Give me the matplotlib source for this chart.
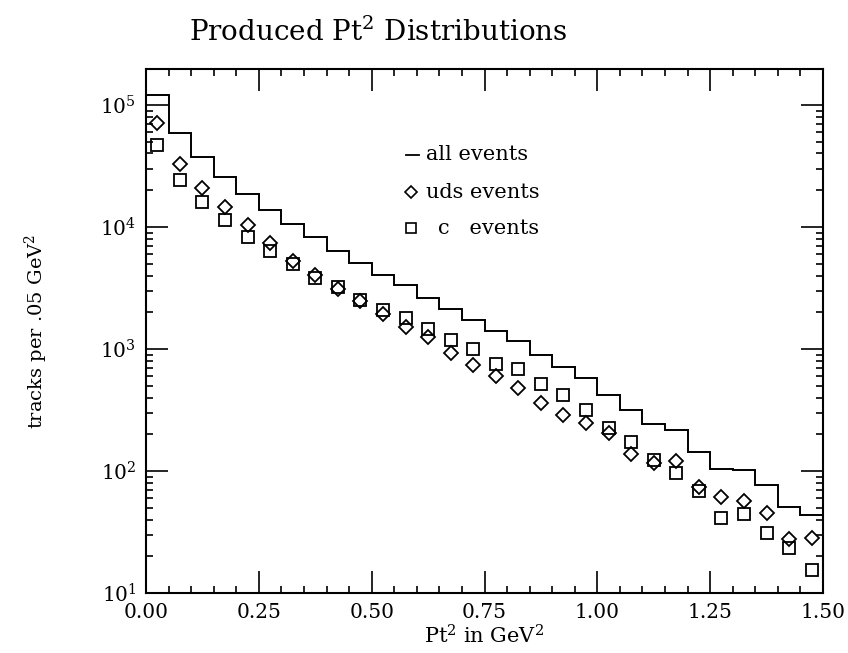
import numpy as np
import matplotlib
matplotlib.use("Agg")
import matplotlib.pyplot as plt
from matplotlib.ticker import FixedLocator, LogLocator, NullFormatter

plt.rcParams['font.family'] = ['DejaVu Serif']
plt.rcParams['mathtext.fontset'] = 'dejavuserif'

bin_width = 0.05
bin_edges = np.round(np.arange(0, 31) * bin_width, 3)
bin_centers = (bin_edges[:-1] + bin_edges[1:]) / 2

all_events = [1.2e5, 5.86e4, 3.72e4, 2.58e4, 1.86e4, 1.38e4, 1.06e4, 8.3e3, 6.35e3, 5.03e3,
              4.05e3, 3.35e3, 2.63e3, 2.11e3, 1.73e3, 1.41e3, 1.17e3, 887, 716, 575,
              420, 316, 243, 217, 144, 103, 101, 76.8, 51, 43.6]
uds_events = [7.08e4, 3.28e4, 2.07e4, 1.47e4, 1.03e4, 7.43e3, 5.3e3, 4.05e3, 3.12e3, 2.45e3,
              1.94e3, 1.52e3, 1.25e3, 933, 740, 604, 476, 363, 288, 249,
              204, 138, 116, 121, 74.3, 61.5, 57.1, 45, 27.9, 28]
c_events = [4.7e4, 2.43e4, 1.61e4, 1.14e4, 8.3e3, 6.4e3, 4.98e3, 3.84e3, 3.2e3, 2.52e3,
            2.09e3, 1.79e3, 1.45e3, 1.19e3, 995, 750, 686, 517, 420, 316,
            224, 174, 122, 96.9, 68.5, 41.4, 44.2, 30.8, 23.2, 15.4]
x_ticks = [0.0, 0.25, 0.5, 0.75, 1.0, 1.25, 1.5]
x_tick_labels = ["0.00", "0.25", "0.50", "0.75", "1.00", "1.25", "1.50"]

fig = plt.figure(figsize=(8.48, 6.53), dpi=100)
ax = fig.add_axes([146/848, 1-593/653, 677/848, 524/653])

ax.stairs(all_events, bin_edges, color='black', linewidth=1.4, baseline=None)
ax.plot(bin_centers, uds_events, linestyle='none', marker='D', markersize=7,
        markerfacecolor='none', markeredgecolor='black', markeredgewidth=1.3)
ax.plot(bin_centers, c_events, linestyle='none', marker='s', markersize=9,
        markerfacecolor='none', markeredgecolor='black', markeredgewidth=1.3)

ax.set_yscale('log')
ax.set_xlim(0, 1.5)
ax.set_ylim(10, 1.97e5)

ax.xaxis.set_major_locator(FixedLocator(x_ticks))
ax.set_xticklabels(x_tick_labels)
ax.xaxis.set_minor_locator(FixedLocator(bin_edges))
ax.yaxis.set_major_locator(LogLocator(base=10, numticks=10))
ax.yaxis.set_minor_locator(LogLocator(base=10, subs=np.arange(2, 10), numticks=20))
ax.yaxis.set_minor_formatter(NullFormatter())

ax.tick_params(which='both', direction='in', top=True, right=True, width=1.2,
               labelsize=14.5, pad=7)
ax.tick_params(which='major', length=16)
ax.tick_params(which='minor', length=5)
for s in ax.spines.values():
    s.set_linewidth(1.5)

ax.set_xlabel(r"Pt$^2$ in GeV$^2$", fontsize=15, labelpad=2)
ax.set_ylabel(r"tracks per .05 GeV$^2$", fontsize=14, labelpad=36)
fig.text(378/848, 1-32/653, r"Produced Pt$^2$ Distributions", fontsize=20,
         ha='center', va='center')

# legend (manual)
def ax_xy(px, py):
    return (px - 146) / 677, (593 - py) / 524

lx0, ly = ax_xy(406, 155)
lx1, _ = ax_xy(419, 155)
ax.plot([lx0, lx1], [ly, ly], color='black', lw=1.3, transform=ax.transAxes)
tx, _ = ax_xy(426, 0)
ax.text(tx, ly, "all events", transform=ax.transAxes, fontsize=15, va='center')
mx, my = ax_xy(411, 192)
ax.plot([mx], [my], marker='D', markersize=6, mfc='none', mec='black', mew=1.2,
        transform=ax.transAxes)
ax.text(tx, my, "uds events", transform=ax.transAxes, fontsize=15, va='center')
mx, my = ax_xy(411, 228)
ax.plot([mx], [my], marker='s', markersize=7, mfc='none', mec='black', mew=1.2,
        transform=ax.transAxes)
ax.text(ax_xy(438, 0)[0], my, "c   events", transform=ax.transAxes, fontsize=15,
        va='center')

fig.savefig("out.png", dpi=100)
